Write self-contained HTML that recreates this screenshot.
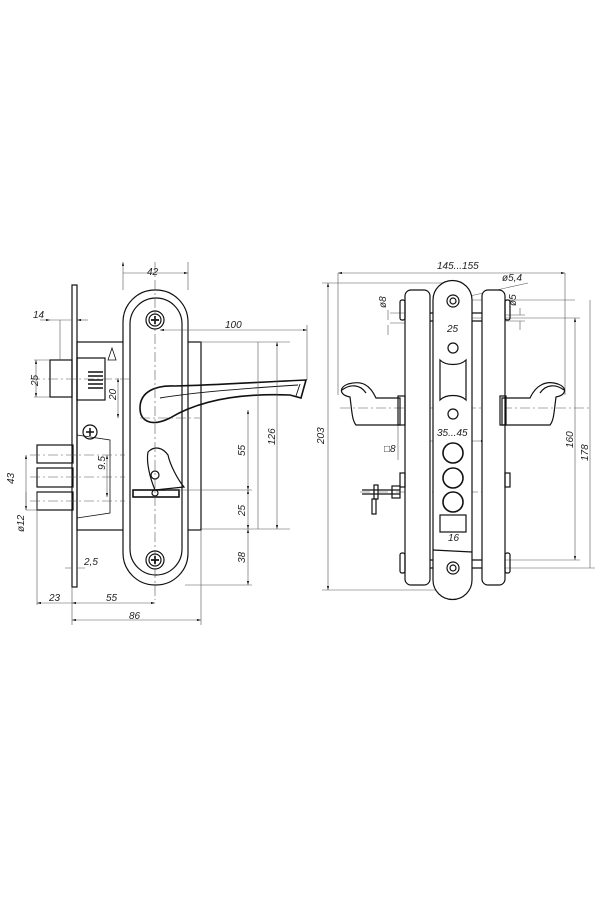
<!DOCTYPE html>
<html><head><meta charset="utf-8"><style>
html,body{margin:0;padding:0;background:#fff}
svg{display:block}
text{font-family:"Liberation Sans",sans-serif;font-style:italic;font-size:10px;fill:#222}
</style></head><body>
<svg width="600" height="900" viewBox="0 0 600 900" xmlns="http://www.w3.org/2000/svg">
<defs>
<marker id="a" viewBox="0 0 10 6" refX="10" refY="3" markerWidth="7" markerHeight="4" orient="auto-start-reverse"><path d="M0,0L10,3L0,6z" fill="#222"/></marker>
</defs>
<g fill="none" stroke="#111" stroke-width="1.2">
<!-- LEFT VIEW -->
<rect x="72" y="285" width="5" height="302" fill="#fff"/>
<rect x="77" y="342" width="124" height="188"/>
<path d="M77,435 L110,440 L110,513 L77,518" stroke-width="0.8"/>
<rect x="50" y="360" width="22" height="37"/>
<rect x="77" y="358" width="28" height="42"/>
<path d="M88,372h15M88,376h15M88,380h15M88,384h15M88,388h15" stroke-width="1.6"/>
<path d="M108,360l4,-12l4,12z" stroke-width="0.8"/>
<rect x="37" y="445" width="36" height="18"/>
<rect x="37" y="468" width="36" height="19"/>
<rect x="37" y="492" width="36" height="18"/>
<circle cx="90" cy="432" r="7"/>
<path d="M86,432h8M90,428v8" stroke-width="1.5"/>
<rect x="123" y="290" width="65" height="295" rx="32" fill="#fff"/>
<rect x="130" y="298" width="52" height="277" rx="26"/>
<circle cx="155" cy="320" r="9"/><circle cx="155" cy="320" r="6"/>
<path d="M151,320h8M155,316v8" stroke-width="1.8"/>
<circle cx="155" cy="560" r="9"/><circle cx="155" cy="560" r="6"/>
<path d="M151,560h8M155,556v8" stroke-width="1.8"/>
<path d="M306,380 L301,398 L290,395 C240,393 200,400 170,418 C150,428 140,420 140,408 C140,392 155,385 175,386 C215,385 260,382 306,380z" stroke-width="1.6"/>
<path d="M300,384 L296,396 M160,398 C195,392 250,388 298,385" stroke-width="0.9"/>
<path d="M148,452 C155,445 163,448 168,455 C170,465 178,480 184,487 L155,490 C150,478 146,462 148,452z"/>
<circle cx="155" cy="475" r="4"/>
<rect x="133" y="490" width="46" height="7" stroke-width="1.6"/>
<circle cx="155" cy="493" r="3"/>
</g>
<g fill="none" stroke="#555" stroke-width="0.6">
<path d="M155,262V600" stroke-dasharray="10,3,2,3"/>
<path d="M30,379H130M30,455H125M30,477H125M30,501H125M140,418H200" stroke-dasharray="10,3,2,3"/>
<path d="M123,262V290M188,262V290M123,273H188" marker-start="url(#a)" marker-end="url(#a)"/>
<path d="M50,320H72M60,320V360" />
<path d="M40,320H50" marker-end="url(#a)"/><path d="M88,320H77" marker-end="url(#a)"/>
<path d="M36,360V397" marker-start="url(#a)" marker-end="url(#a)"/><path d="M34,360H50M34,397H50"/>
<path d="M118,378V418" marker-start="url(#a)" marker-end="url(#a)"/>
<path d="M160,330H307" marker-start="url(#a)" marker-end="url(#a)"/><path d="M307,325V380"/>
<path d="M200,342H290M258,342V529" /><path d="M277,342V529" marker-start="url(#a)" marker-end="url(#a)"/><path d="M200,529H290"/>
<path d="M248,410V490" marker-start="url(#a)" marker-end="url(#a)"/><path d="M248,490V529" marker-start="url(#a)" marker-end="url(#a)"/><path d="M248,529V585" marker-start="url(#a)" marker-end="url(#a)"/><path d="M165,490H252M185,585H252"/>
<path d="M107,455V497" marker-start="url(#a)" marker-end="url(#a)"/>
<path d="M26,455V510" marker-start="url(#a)" marker-end="url(#a)"/>
<path d="M26,492V510"/><path d="M37,492V605M37,510H26"/>
<path d="M65,568H72M85,568H77"/>
<path d="M37,603H72M72,587V625" marker-start="url(#a)"/><path d="M72,603H155" marker-start="url(#a)" marker-end="url(#a)"/>
<path d="M72,620H201" marker-start="url(#a)" marker-end="url(#a)"/><path d="M201,530V625"/>
<!-- RIGHT dims -->
<path d="M338,273H565" marker-start="url(#a)" marker-end="url(#a)"/><path d="M338,273V395M565,273V395"/>
<path d="M328,283V590" marker-start="url(#a)" marker-end="url(#a)"/><path d="M322,283H453M322,590H453"/>
<path d="M452,300L528,283"/><path d="M462,300H575M460,318H580"/>
<path d="M575,318V560" marker-start="url(#a)" marker-end="url(#a)"/><path d="M590,300V568"/>
<path d="M460,568H595"/><path d="M455,560H580"/>
<path d="M388,310V320M388,325V335" /><path d="M390,313H410M390,323H410M520,308V315M520,321V330M500,315H525M500,321H525"/>
<path d="M438,336H470" marker-start="url(#a)" marker-end="url(#a)"/>
<path d="M420,441H485" marker-start="url(#a)" marker-end="url(#a)"/>
<path d="M440,546H466" marker-start="url(#a)" marker-end="url(#a)"/>
<path d="M340,408H590M360,492H490M453,283V593" stroke-dasharray="10,3,2,3"/>
<path d="M398,425V460"/>
</g>
<g fill="none" stroke="#111" stroke-width="1.2">
<rect x="405" y="290" width="25" height="295" rx="6" fill="#fff"/>
<rect x="482" y="290" width="23" height="295" rx="6" fill="#fff"/>
<rect x="400" y="300" width="5" height="20" rx="2"/><rect x="505" y="300" width="5" height="20" rx="2"/>
<rect x="400" y="553" width="5" height="20" rx="2"/><rect x="505" y="553" width="5" height="20" rx="2"/>
<path d="M430,313H433M430,321H433M472,313H482M472,321H482M430,560H433M472,560H482M430,568H433M472,568H482"/>
<path d="M433,580 V300 A19,19 0 0 1 472,300 V580 A19,19 0 0 1 433,580z" fill="#fff"/>
<circle cx="453" cy="301" r="6"/><circle cx="453" cy="301" r="3"/>
<circle cx="453" cy="568" r="6"/><circle cx="453" cy="568" r="3"/>
<circle cx="453" cy="348" r="5"/><circle cx="453" cy="414" r="5"/>
<path d="M440,360 C446,366 460,366 466,360 V400 C460,394 446,394 440,400z"/>
<circle cx="453" cy="453" r="10" stroke-width="1.6"/>
<circle cx="453" cy="478" r="10" stroke-width="1.6"/>
<circle cx="453" cy="502" r="10" stroke-width="1.6"/>
<rect x="440" y="515" width="26" height="17"/>
<path d="M433,550 L472,552"/>
<path d="M400,398 H376 C370,385 362,380 348,384 C338,388 340,395 350,397 C352,412 352,420 356,425 H400z"/>
<path d="M342,390 C350,384 360,384 366,393"/>
<rect x="398" y="396" width="7" height="29"/>
<path d="M502,398 H530 C536,385 546,380 558,384 C568,388 566,395 556,397 C554,412 554,420 550,425 H502z"/>
<path d="M564,390 C556,384 546,384 540,393"/>
<rect x="500" y="396" width="6" height="29"/>
<rect x="400" y="473" width="5" height="14"/><rect x="505" y="473" width="5" height="14"/>
<path d="M362,490H400M362,494H400" /><rect x="374" y="485" width="4" height="14"/><rect x="372" y="499" width="4" height="15"/>
<rect x="392" y="486" width="8" height="12"/>
</g>
<g>
<text x="147" y="275">42</text>
<text x="33" y="318">14</text>
<text x="225" y="328">100</text>
<text transform="translate(38,386) rotate(-90)">25</text>
<text transform="translate(116,400) rotate(-90)">20</text>
<text transform="translate(275,445) rotate(-90)">126</text>
<text transform="translate(245,456) rotate(-90)">55</text>
<text transform="translate(105,470) rotate(-90)">9.5</text>
<text transform="translate(14,484) rotate(-90)">43</text>
<text transform="translate(24,532) rotate(-90)">ø12</text>
<text transform="translate(245,516) rotate(-90)">25</text>
<text transform="translate(245,563) rotate(-90)">38</text>
<text x="84" y="565">2,5</text>
<text x="49" y="601">23</text>
<text x="106" y="601">55</text>
<text x="129" y="619">86</text>
<text x="437" y="269">145...155</text>
<text x="502" y="281">ø5,4</text>
<text transform="translate(386,308) rotate(-90)">ø8</text>
<text transform="translate(516,306) rotate(-90)">ø5</text>
<text x="447" y="332">25</text>
<text x="437" y="436">35...45</text>
<text x="384" y="452">□8</text>
<text x="448" y="541">16</text>
<text transform="translate(573,448) rotate(-90)">160</text>
<text transform="translate(588,461) rotate(-90)">178</text>
<text transform="translate(324,444) rotate(-90)">203</text>
</g>
</svg>
</body></html>
